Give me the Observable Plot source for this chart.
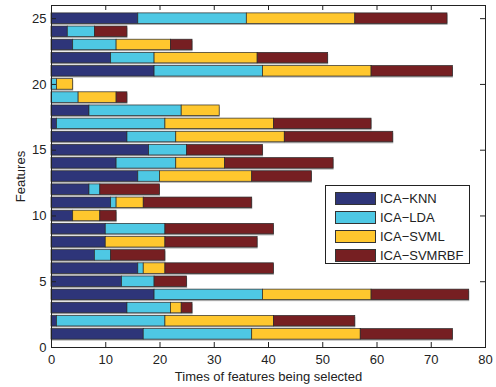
<!DOCTYPE html>
<html>
<head>
<meta charset="utf-8">
<script src="https://cdn.jsdelivr.net/npm/d3@7"></script>
<script src="https://cdn.jsdelivr.net/npm/@observablehq/plot@0.6"></script>
<style>
  body { margin: 0; background: #fff; }
  #wrap { position: relative; width: 496px; height: 387px; font-family: "Liberation Sans", Arial, sans-serif; }
  #legend { position: absolute; left: 325px; top: 185px; width: 145px; height: 79px; border: 1px solid #222; background: #fff; box-sizing: border-box; }
  .row { position: absolute; left: 9px; height: 14px; display: flex; align-items: center; }
  .sw { width: 41px; height: 13px; border: 1px solid #333; box-sizing: border-box; margin-right: 4px; }
  .lb { font-size: 13px; color: #222; }
</style>
</head>
<body>
<div id="wrap"></div>
<script>
const features = d3.range(1, 26);
const methods = ["ICA-KNN", "ICA-LDA", "ICA-SVML", "ICA-SVMRBF"];
const colors = ["#2e3579", "#4ec8e4", "#ffc72e", "#761f22"];
const knn  = [17,1,14,19,13,16,8,10,10,4,11,7,16,12,18,14,1,7,0,0,19,11,4,3,16];
const lda  = [20,20,8,20,6,1,3,0,11,0,1,2,4,11,7,9,20,17,5,1,20,8,8,5,20];
const svml = [20,20,2,20,0,4,0,11,0,5,5,0,17,9,0,20,20,7,7,3,20,19,10,0,20];
const rbf  = [17,15,2,18,6,20,10,17,20,3,20,11,11,20,14,20,18,0,2,0,15,13,4,6,17];
const xTicks = d3.range(0, 81, 10);
const yTicks = d3.range(0, 26, 5);

const series = [knn, lda, svml, rbf];
const rows = [];
features.forEach((f, i) => {
  let acc = 0;
  series.forEach((s, k) => {
    const v = s[i];
    if (v > 0) rows.push({feature: f, method: methods[k], x1: acc, x2: acc + v});
    acc += v;
  });
});
const totals = features.map((f, i) => ({feature: f, total: series.reduce((a, s) => a + s[i], 0)}));

const W = 496, H = 387, mL = 51, mR = 11, mT = 5, mB = 40;
const plotH = H - mT - mB, plotW = W - mL - mR;

const chart = Plot.plot({
  width: W, height: H,
  marginLeft: mL, marginRight: mR, marginTop: mT, marginBottom: mB,
  style: {fontFamily: "'Liberation Sans', Arial, sans-serif", fontSize: "12.5px", color: "#222", background: "white"},
  x: {domain: [0, 80], ticks: xTicks, label: null},
  y: {domain: [0, 26], ticks: yTicks, label: null},
  color: {domain: methods, range: colors},
  marks: [
    Plot.rect(totals, {x1: 0, x2: "total", y1: d => d.feature - 0.4, y2: d => d.feature + 0.4, fill: "#aaaaaa", dy: 1.5, dx: 0.5}),
    Plot.rect(rows, {x1: "x1", x2: "x2", y1: d => d.feature - 0.4, y2: d => d.feature + 0.4, fill: "method", stroke: "#2a2a2a", strokeWidth: 0.7}),
    Plot.tickX(xTicks.slice(1, -1), {x: d => d, stroke: "#222", insetTop: plotH - 5}),
    Plot.tickX(xTicks.slice(1, -1), {x: d => d, stroke: "#222", insetBottom: plotH - 5}),
    Plot.tickY(yTicks.slice(1), {y: d => d, stroke: "#222", insetRight: plotW - 5}),
    Plot.tickY(yTicks.slice(1), {y: d => d, stroke: "#222", insetLeft: plotW - 5}),
    Plot.axisX({ticks: xTicks, tickSize: 0, tickPadding: 7, label: "Times of features being selected", labelAnchor: "center", labelArrow: "none", labelOffset: 33, fontSize: 13}),
    Plot.axisY({ticks: yTicks, tickSize: 0, tickPadding: 5, label: "Features", labelAnchor: "center", labelArrow: "none", labelOffset: 36, fontSize: 13}),
    Plot.frame({stroke: "#222", strokeWidth: 1})
  ]
});

const wrap = document.getElementById("wrap");
wrap.appendChild(chart);
const legend = document.createElement("div");
legend.id = "legend";
methods.forEach((m, k) => {
  const r = document.createElement("div");
  r.className = "row";
  r.style.top = (5 + k * 19) + "px";
  r.innerHTML = `<div class="sw" style="background:${colors[k]}"></div><span class="lb">${m.replace("-", "\u2212")}</span>`;
  legend.appendChild(r);
});
wrap.appendChild(legend);
</script>
</body>
</html>
